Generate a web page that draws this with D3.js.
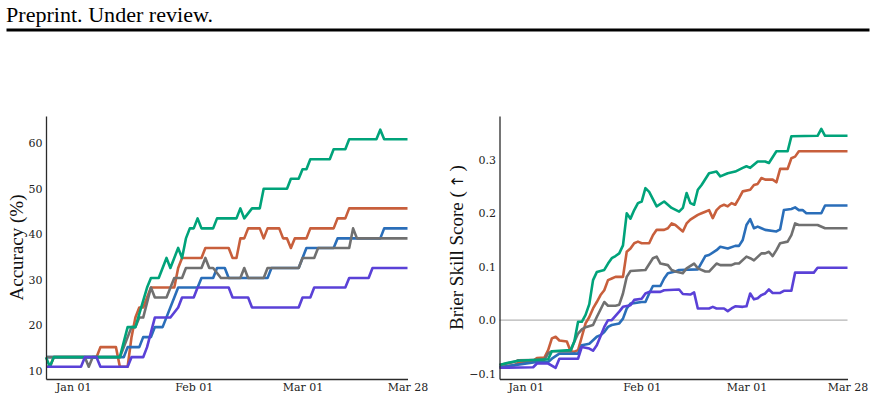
<!DOCTYPE html>
<html><head><meta charset="utf-8">
<script src="https://cdn.jsdelivr.net/npm/d3@7"></script>
<style>body{margin:0;background:#fff}</style></head>
<body><svg id="c" width="876" height="400"></svg>
<script>
// ---------- data ----------
const startDay = "2024-12-25";
const endDay = "2025-03-28";
const tickDates = ["2025-01-01","2025-02-01","2025-03-01","2025-03-28"];
const tickLabels = ["Jan 01","Feb 01","Mar 01","Mar 28"];
const accTicks = [10,20,30,40,50,60];
const bssTicks = [-0.1,0.0,0.1,0.2,0.3];
const seriesKeys = ["orange","blue","gray","green","purple"]; // drawing order
const seriesColors = ["#c85f3c","#2a6eb9","#707070","#00a37a","#5a41d7"];

// accuracy (%) — [day offset from start, value]
const accOrange = [[0,10.9],[1,10.9],[2,13.0],[13,13.0],[14,15.2],[18,15.2],[19,10.9],[21,10.9],[22,17.4],[23,21.7],[24,23.9],[25,23.9],[27,28.3],[33,28.3],[34,32.6],[35,34.8],[40,34.8],[41,37.0],[47,37.0],[48,34.8],[49,34.8],[50,39.1],[51,39.1],[52,41.3],[55,41.3],[56,39.1],[57,41.3],[60,41.3],[61,39.1],[62,39.1],[63,37.0],[64,39.1],[67,39.1],[68,41.3],[74,41.3],[75,43.5],[77,43.5],[78,45.7],[93,45.7]];
const accBlue = [[0,13.0],[20,13.0],[21,15.2],[24,15.2],[25,17.4],[27,17.4],[28,19.6],[30,19.6],[33,26.1],[34,28.3],[39,28.3],[40,30.4],[43,30.4],[44,32.6],[46,32.6],[47,30.4],[57,30.4],[58,32.6],[65,32.6],[66,34.8],[67,37.0],[74,37.0],[75,39.1],[86,39.1],[87,41.3],[93,41.3]];
const accGray = [[0,13.0],[10,13.0],[11,10.9],[12,13.0],[19,13.0],[22,19.6],[23,19.6],[24,21.7],[25,21.7],[27,28.3],[28,26.1],[31,26.1],[33,30.4],[35,30.4],[36,32.6],[40,32.6],[41,34.8],[42,32.6],[43,32.6],[45,30.4],[50,30.4],[51,32.6],[52,30.4],[56,30.4],[57,32.6],[65,32.6],[66,34.8],[69,34.8],[70,37.0],[78,37.0],[79,41.3],[80,39.1],[93,39.1]];
const accGreen = [[0,13.0],[1,10.9],[2,13.0],[19,13.0],[21,19.6],[23,19.6],[26,28.3],[27,30.4],[29,30.4],[31,34.8],[32,32.6],[34,37.0],[35,34.8],[36,39.1],[37,41.3],[38,41.3],[39,43.5],[40,41.3],[43,41.3],[44,43.5],[49,43.5],[50,45.7],[51,43.5],[53,45.7],[55,45.7],[56,50.0],[62,50.0],[63,52.2],[65,52.2],[66,54.3],[67,54.3],[68,56.5],[73,56.5],[74,58.7],[77,58.7],[78,60.9],[85,60.9],[86,63.0],[87,60.9],[93,60.9]];
const accPurple = [[0,10.9],[9,10.9],[10,13.0],[13,13.0],[14,10.9],[21,10.9],[22,13.0],[25,13.0],[26,15.2],[28,21.7],[32,21.7],[34,23.9],[35,26.1],[38,26.1],[39,28.3],[47,28.3],[48,26.1],[52,26.1],[53,23.9],[65,23.9],[66,26.1],[68,26.1],[69,28.3],[77,28.3],[78,30.4],[83,30.4],[84,32.6],[93,32.6]];

// Brier skill score — [day offset from start, value]
const bssOrange = [[0,-0.088],[4,-0.084],[5,-0.080],[9,-0.076],[10,-0.071],[12,-0.070],[13,-0.056],[14,-0.034],[15,-0.031],[16,-0.038],[18,-0.040],[19,-0.058],[20,-0.059],[21,-0.056],[22,-0.031],[23,-0.006],[24,0.006],[25,0.022],[26,0.034],[27,0.047],[28,0.056],[29,0.075],[30,0.078],[31,0.081],[33,0.081],[34,0.128],[35,0.134],[36,0.144],[37,0.147],[38,0.144],[40,0.144],[41,0.159],[42,0.169],[44,0.169],[45,0.172],[46,0.181],[47,0.178],[49,0.166],[50,0.181],[51,0.188],[53,0.197],[54,0.200],[55,0.203],[56,0.206],[57,0.191],[58,0.206],[59,0.213],[60,0.216],[61,0.213],[62,0.219],[63,0.216],[64,0.228],[65,0.241],[67,0.244],[68,0.253],[69,0.255],[70,0.266],[71,0.263],[73,0.263],[74,0.258],[75,0.283],[77,0.283],[78,0.303],[79,0.306],[80,0.316],[93,0.316]];
const bssBlue = [[0,-0.088],[4,-0.084],[10,-0.078],[13,-0.078],[14,-0.072],[16,-0.0625],[21,-0.0625],[22,-0.047],[24,-0.044],[25,-0.0375],[26,-0.031],[27,-0.028],[28,-0.022],[29,-0.0125],[30,-0.009],[32,-0.006],[33,0.003],[34,0.022],[35,0.031],[38,0.034],[39,0.034],[40,0.050],[41,0.064],[43,0.064],[44,0.078],[45,0.088],[47,0.091],[48,0.094],[53,0.095],[55,0.120],[56,0.122],[58,0.131],[59,0.1375],[61,0.134],[63,0.139],[64,0.139],[65,0.150],[66,0.178],[67,0.189],[68,0.172],[69,0.175],[70,0.172],[71,0.169],[74,0.166],[75,0.170],[76,0.206],[78,0.208],[79,0.211],[80,0.206],[81,0.206],[82,0.200],[86,0.200],[87,0.2145],[93,0.2145]];
const bssGray = [[0,-0.084],[4,-0.078],[5,-0.075],[12,-0.074],[13,-0.062],[14,-0.058],[19,-0.058],[20,-0.040],[21,-0.025],[22,-0.017],[23,-0.013],[25,-0.009],[26,0.006],[27,0.020],[28,0.034],[29,0.027],[31,0.027],[32,0.029],[33,0.050],[34,0.081],[35,0.092],[39,0.094],[41,0.116],[42,0.119],[43,0.106],[45,0.103],[46,0.094],[47,0.091],[49,0.088],[50,0.097],[52,0.106],[53,0.097],[55,0.091],[56,0.091],[58,0.106],[59,0.103],[62,0.103],[63,0.106],[64,0.106],[66,0.119],[67,0.116],[68,0.112],[70,0.125],[71,0.125],[72,0.128],[73,0.120],[74,0.131],[75,0.144],[77,0.147],[78,0.159],[79,0.181],[80,0.178],[85,0.178],[87,0.172],[93,0.172]];
const bssGreen = [[0,-0.084],[2,-0.080],[5,-0.076],[13,-0.073],[14,-0.058],[19,-0.056],[20,-0.040],[21,-0.003],[22,-0.003],[23,0.010],[24,0.030],[25,0.075],[26,0.090],[28,0.094],[29,0.106],[30,0.116],[31,0.120],[32,0.125],[33,0.140],[34,0.200],[35,0.190],[36,0.206],[37,0.219],[38,0.222],[39,0.247],[40,0.240],[42,0.213],[44,0.222],[46,0.210],[48,0.203],[49,0.210],[50,0.238],[51,0.219],[52,0.216],[53,0.244],[54,0.253],[56,0.275],[58,0.278],[59,0.269],[61,0.275],[63,0.278],[65,0.285],[66,0.288],[67,0.285],[69,0.297],[71,0.297],[72,0.294],[74,0.316],[77,0.316],[78,0.344],[85,0.345],[86,0.358],[87,0.345],[93,0.345]];
const bssPurple = [[0,-0.089],[9,-0.088],[10,-0.081],[13,-0.081],[15,-0.089],[16,-0.072],[21,-0.072],[22,-0.050],[24,-0.053],[25,-0.057],[26,-0.047],[27,-0.030],[28,-0.0125],[29,0.000],[30,0.000],[31,0.008],[32,0.016],[33,0.025],[35,0.028],[36,0.038],[38,0.040],[39,0.050],[40,0.053],[43,0.053],[44,0.056],[48,0.0575],[49,0.049],[51,0.048],[52,0.052],[53,0.022],[56,0.022],[57,0.025],[58,0.022],[60,0.022],[61,0.017],[62,0.022],[63,0.026],[65,0.025],[66,0.026],[67,0.050],[68,0.039],[69,0.041],[70,0.047],[71,0.050],[72,0.0575],[73,0.051],[75,0.051],[76,0.055],[78,0.055],[79,0.089],[84,0.089],[85,0.098],[93,0.098]];

// ---------- drawing ----------
const svg = d3.select("#c");
svg.append("rect").attr("width",876).attr("height",400).attr("fill","#fff");

const parse = d3.utcParse("%Y-%m-%d");
const t0 = parse(startDay), t1 = parse(endDay);
const dayDate = d => d3.utcDay.offset(t0, d);

// header
svg.append("text").attr("x",6).attr("y",21.5)
  .attr("font-family","'Liberation Serif','Times New Roman',serif")
  .attr("font-size",21).attr("fill","#000")
  .attr("textLength",207).attr("lengthAdjust","spacingAndGlyphs")
  .text("Preprint. Under review.");
svg.append("rect").attr("x",6.5).attr("y",28.5).attr("width",863).attr("height",3).attr("fill","#000");

function panel(cfg){
  const x = d3.scaleUtc().domain([t0,t1]).range([cfg.x0,cfg.x1]);
  const y = d3.scaleLinear().domain(cfg.yDomain).range([379,116]);
  const g = svg.append("g");

  if (cfg.zero) {
    g.append("line").attr("x1",cfg.x0).attr("x2",cfg.x1)
      .attr("y1",y(0)).attr("y2",y(0))
      .attr("stroke","#b4b4b4").attr("stroke-width",1.3);
  }

  const line = d3.line().x(d=>x(dayDate(d[0]))).y(d=>y(d[1]));
  cfg.series.forEach((s,i)=>{
    g.append("path").datum(s).attr("d",line)
      .attr("fill","none").attr("stroke",seriesColors[i])
      .attr("stroke-width",2.6).attr("stroke-linejoin","round").attr("stroke-linecap","butt");
  });

  const ya = g.append("g").attr("transform",`translate(${cfg.x0},0)`)
    .call(d3.axisLeft(y).tickValues(cfg.ticks).tickFormat(cfg.fmt).tickSize(0).tickSizeOuter(0).tickPadding(3.5));
  const xa = g.append("g").attr("transform",`translate(0,379)`)
    .call(d3.axisBottom(x).tickValues(tickDates.map(parse)).tickFormat((d,i)=>tickLabels[i]).tickSize(0).tickSizeOuter(0).tickPadding(4));
  [ya,xa].forEach(a=>{
    a.attr("font-family","'DejaVu Serif',serif").attr("font-size",11);
    a.selectAll("text").attr("fill","#222");
    a.select(".domain").attr("stroke","#2b2b2b").attr("stroke-width",1.3);
  });

  g.append("text")
    .attr("transform",`translate(${cfg.labelX},${(379+116)/2}) rotate(-90)`)
    .attr("text-anchor","middle")
    .attr("font-family","'Liberation Serif','Times New Roman',serif")
    .attr("font-size",19).attr("fill","#111")
    .call(t=>{
      if (cfg.arrow) {
        t.append("tspan").text(cfg.label);
        t.append("tspan").attr("font-family","'DejaVu Sans',sans-serif").attr("font-size",16).text("\u2009\u2191\u2009");
        t.append("tspan").text(")");
      } else t.text(cfg.label);
    });
}

panel({x0:46, x1:407.5, yDomain:[8.2,66], ticks:accTicks, fmt:d3.format("d"),
  series:[accOrange,accBlue,accGray,accGreen,accPurple], label:"Accuracy (%)", labelX:23});
panel({x0:499.5, x1:847.5, yDomain:[-0.11,0.382], ticks:bssTicks, fmt:d3.format(".1f"), zero:true,
  series:[bssOrange,bssBlue,bssGray,bssGreen,bssPurple], label:"Brier Skill Score (", arrow:true, labelX:463});
</script>
</body></html>
